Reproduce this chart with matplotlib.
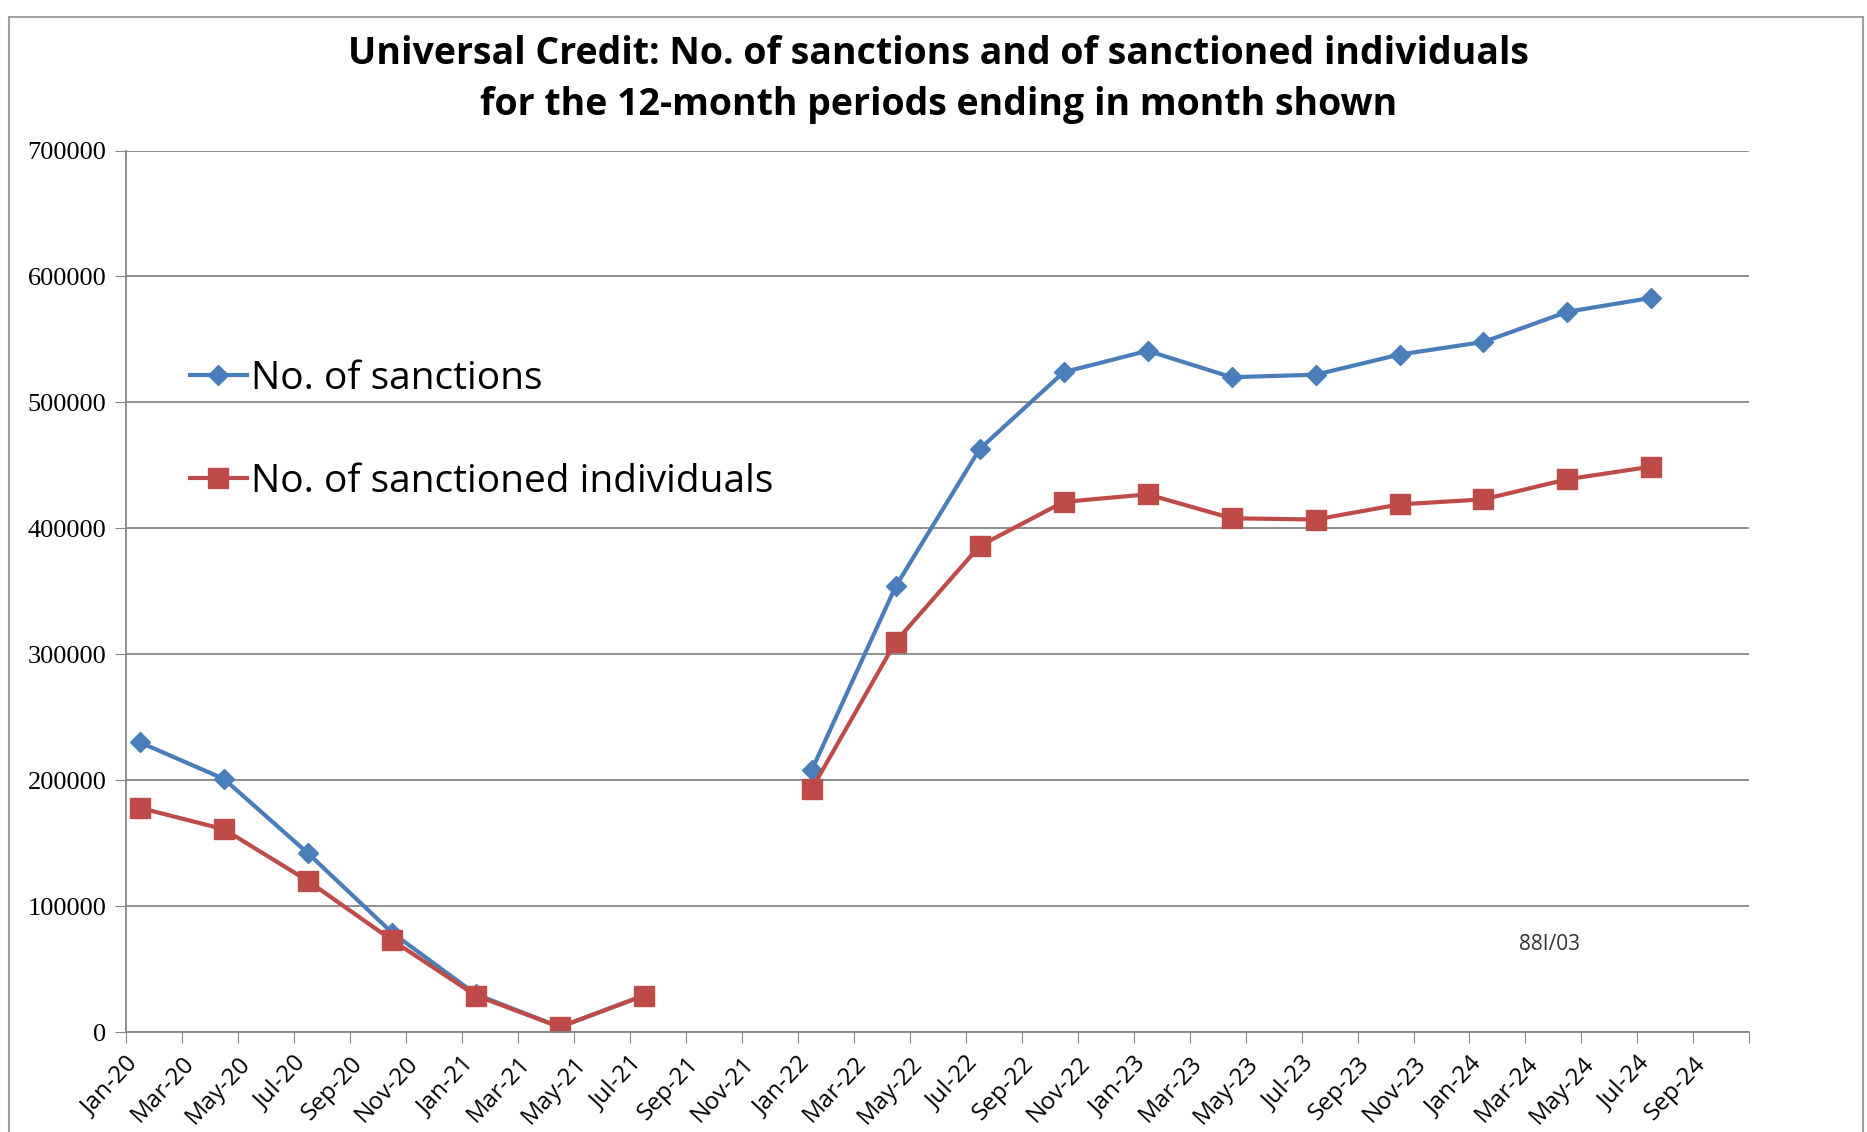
import matplotlib
matplotlib.use('Agg')
import matplotlib.pyplot as plt
import numpy as np

# quarter points (12-month periods ending in month shown)
periods = ['Jan-20', 'Apr-20', 'Jul-20', 'Oct-20', 'Jan-21', 'Apr-21', 'Jul-21', 'Oct-21',
           'Jan-22', 'Apr-22', 'Jul-22', 'Oct-22', 'Jan-23', 'Apr-23', 'Jul-23', 'Oct-23',
           'Jan-24', 'Apr-24', 'Jul-24']
sanctions = [230000, 201000, 142000, 79000, 30000, 4000, 29000, np.nan,
             208000, 354000, 463000, 524000, 541000, 520000, 522000, 538000,
             548000, 572000, 583000]
individuals = [178000, 161000, 120000, 73000, 29000, 4000, 29000, np.nan,
               193000, 310000, 386000, 421000, 427000, 408000, 407000, 419000,
               423000, 439000, 449000]

month_names = ['Jan', 'Feb', 'Mar', 'Apr', 'May', 'Jun', 'Jul', 'Aug', 'Sep', 'Oct', 'Nov', 'Dec']

def month_pos(lbl):
    m, y = lbl.split('-')
    return (int(y) - 20) * 12 + month_names.index(m) + 0.5  # mid-month

x = [month_pos(p) for p in periods]

tick_months = np.arange(0, 59, 2)
tick_labels = ['%s-%02d' % (month_names[t % 12], 20 + t // 12) for t in tick_months]
tick_labels[-1] = ''  # last tick unlabeled

fig = plt.figure(figsize=(18.67, 11.32), dpi=100)
ax = fig.add_axes([0.0675, 0.0883, 0.8695, 0.7787])

blue = '#4A7EBB'
red = '#BE4B48'
ax.plot(x, sanctions, color=blue, lw=3, marker='D', ms=10, label='No. of sanctions')
ax.plot(x, individuals, color=red, lw=3, marker='s', ms=14, label='No. of sanctioned individuals')

ax.set_xlim(0, 58)
ax.set_ylim(0, 700000)
ax.set_yticks(np.arange(0, 700001, 100000))
ax.set_yticklabels([str(v) for v in range(0, 700001, 100000)], family='Liberation Serif', fontsize=19)
ax.set_xticks(tick_months)
ax.set_xticklabels(tick_labels, rotation=47, ha='right', rotation_mode='anchor',
                   family='Open Sans', fontsize=17.5)
ax.tick_params(axis='x', length=8, color='#868686', pad=6)
ax.tick_params(axis='y', length=8, color='#868686', pad=6)
ax.grid(axis='y', color='#868686', lw=1.3)
ax.set_axisbelow(True)
for s in ['top', 'right']:
    ax.spines[s].set_visible(False)
for s in ['left', 'bottom']:
    ax.spines[s].set_color('#868686')
    ax.spines[s].set_linewidth(1.3)

ax.legend(loc='upper left', bbox_to_anchor=(0.03, 0.78), frameon=False,
          prop={'family': 'Open Sans', 'size': 28}, handlelength=1.45, handletextpad=0.1,
          labelspacing=1.66, borderaxespad=0)

fig.text(1549 / 1867, 1 - 944 / 1132, '88I/03', ha='center', va='center',
         family='Open Sans', fontsize=15, color='#333333')

fig.text(0.5025, 0.952, 'Universal Credit: No. of sanctions and of sanctioned individuals',
         ha='center', va='center', family='Open Sans', fontweight='bold', fontsize=27)
fig.text(0.5025, 0.907, 'for the 12-month periods ending in month shown',
         ha='center', va='center', family='Open Sans', fontweight='bold', fontsize=27)

# outer chart frame
fig.patches.append(plt.Rectangle((0.005, -0.01), 0.993, 1.005 - 0.01, transform=fig.transFigure,
                                 fill=False, edgecolor='#A0A0A0', lw=1.5))

fig.savefig('out.png', dpi=100)
